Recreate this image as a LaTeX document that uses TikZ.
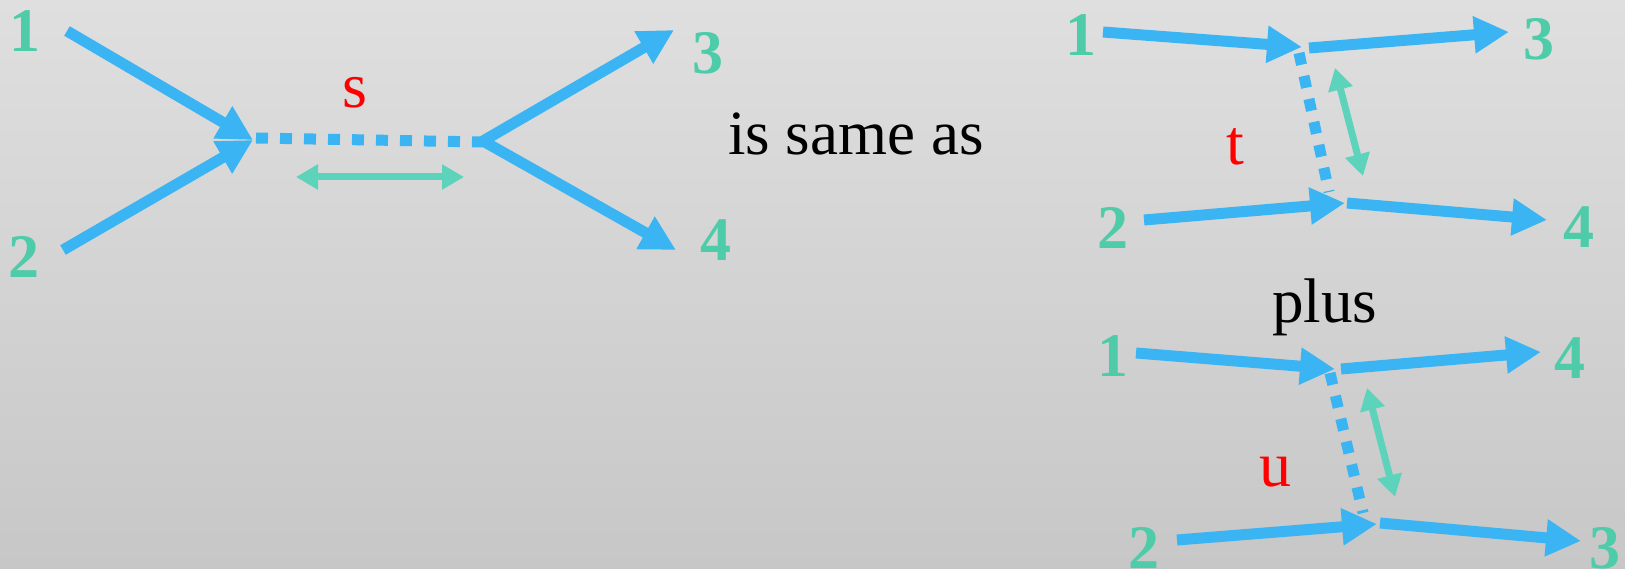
\documentclass[tikz,border=0pt]{standalone}
\usepackage{fontspec}
\setmainfont{Liberation Serif}
\usetikzlibrary{arrows.meta}
\definecolor{bgtop}{RGB}{223,223,223}
\definecolor{bgbot}{RGB}{199,199,199}
\definecolor{pblue}{RGB}{58,180,242}
\definecolor{plabel}{RGB}{78,204,170}
\definecolor{pgreen}{RGB}{93,211,188}
\begin{document}
\begin{tikzpicture}[x=1pt,y=-1pt,
 prop/.style={draw=pblue, line width=11pt, -{Triangle[length=35pt,width=35pt]}},
 virt/.style={draw=pblue, line width=11pt, dash pattern=on 12pt off 12pt},
 xfer/.style={draw=pgreen, line width=7pt, {Triangle[length=22pt,width=24pt]}-{Triangle[length=22pt,width=24pt]}},
 num/.style={text=plabel, font=\fontsize{62}{70}\selectfont\bfseries, inner sep=0pt},
 chan/.style={text=red, font=\fontsize{64}{70}\selectfont, inner sep=0pt},
 word/.style={text=black, font=\fontsize{63}{70}\selectfont, inner sep=0pt, anchor=base west},
]
\shade[top color=bgtop, bottom color=bgbot] (0pt,0pt) rectangle (1625pt,-569pt);
\useasboundingbox (0pt,0pt) rectangle (1625pt,-569pt);

% ---------- left diagram ----------
\node[num] (L1) at (25,31) {1};
\node[num] (L2) at (24,257) {2};
\node[num] (L3) at (708,53) {3};
\node[num] (L4) at (716,240) {4};
\node[chan] (Ls) at (355,93) {s};
\coordinate (L1s) at (67,31);
\coordinate (L2s) at (63,250);
\coordinate (La) at (253,140);
\coordinate (Lda) at (256,138);
\coordinate (Ldb) at (483,142);
\coordinate (Lb) at (483,141);
\coordinate (L3t) at (674,30);
\coordinate (L4t) at (676,250);
\coordinate (Lxa) at (296,177);
\coordinate (Lxb) at (464,177);
\draw[prop] (L1s) -- (La);
\draw[prop] (L2s) -- (La);
\draw[virt] (Lda) -- (Ldb);
\draw[prop] (Lb) -- (L3t);
\draw[prop] (Lb) -- (L4t);
\draw[xfer] (Lxa) -- (Lxb);

\node[word] (same) at (728,155) {is same as};

% ---------- top right diagram ----------
\node[num] (T1) at (1081,35) {1};
\node[num] (T2) at (1113,228) {2};
\node[num] (T3) at (1539,39) {3};
\node[num] (T4) at (1579,227) {4};
\node[chan] (Tt) at (1235,147) {t};
\coordinate (T1s) at (1103,32);
\coordinate (T1e) at (1302,47);
\coordinate (T3s) at (1309,48);
\coordinate (T3e) at (1509,32);
\coordinate (T2s) at (1144,220);
\coordinate (T2e) at (1345,203);
\coordinate (T4s) at (1347,203);
\coordinate (T4e) at (1547,220);
\coordinate (Tda) at (1299,53);
\coordinate (Tdb) at (1329,192);
\coordinate (Txa) at (1335,68);
\coordinate (Txb) at (1363,176);
\draw[prop] (T1s) -- (T1e);
\draw[prop] (T3s) -- (T3e);
\draw[prop] (T2s) -- (T2e);
\draw[prop] (T4s) -- (T4e);
\draw[virt, dash pattern=on 12pt off 11.5pt] (Tda) -- (Tdb);
\draw[xfer] (Txa) -- (Txb);

\node[word] (plus) at (1272,323) {plus};

% ---------- bottom right diagram ----------
\node[num] (B1) at (1113,356) {1};
\node[num] (B2) at (1144,548) {2};
\node[num] (B4) at (1570,358) {4};
\node[num] (B3) at (1605,548) {3};
\node[chan] (Bu) at (1275,472) {u};
\coordinate (B1s) at (1136,353);
\coordinate (B1e) at (1335,369);
\coordinate (B4s) at (1341,369);
\coordinate (B4e) at (1541,352);
\coordinate (B2s) at (1177,540);
\coordinate (B2e) at (1377,524);
\coordinate (B3s) at (1380,523);
\coordinate (B3e) at (1581,541);
\coordinate (Bda) at (1330,373);
\coordinate (Bdb) at (1363,513);
\coordinate (Bxa) at (1367,388);
\coordinate (Bxb) at (1395,497);
\draw[prop] (B1s) -- (B1e);
\draw[prop] (B4s) -- (B4e);
\draw[prop] (B2s) -- (B2e);
\draw[prop] (B3s) -- (B3e);
\draw[virt, dash pattern=on 12pt off 11.5pt] (Bda) -- (Bdb);
\draw[xfer] (Bxa) -- (Bxb);
\end{tikzpicture}
\end{document}
